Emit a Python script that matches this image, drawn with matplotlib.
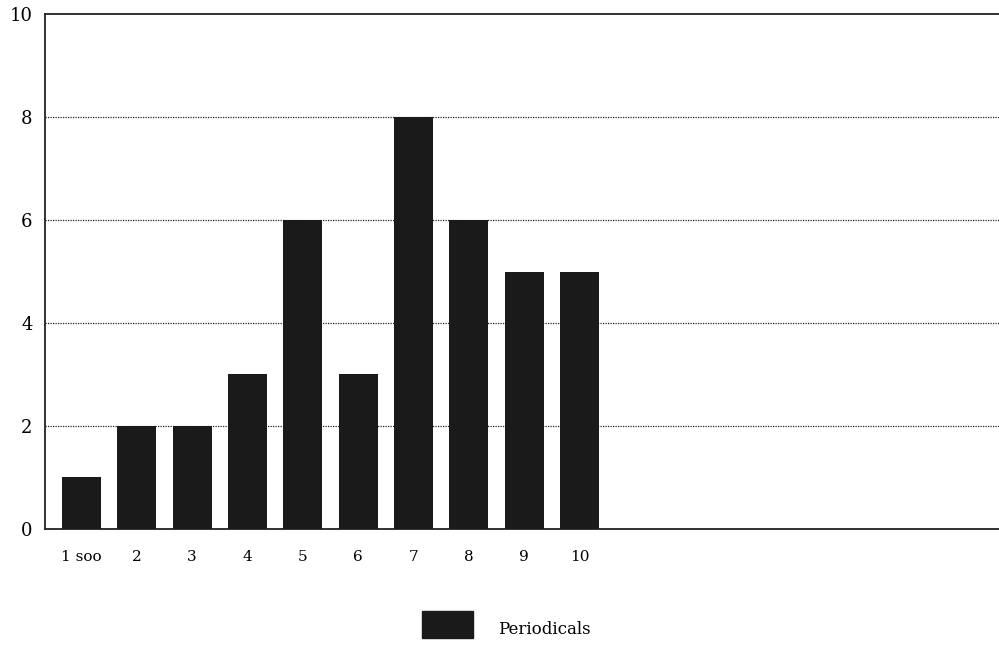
import numpy as np
import matplotlib.pyplot as plt
from matplotlib.patches import Rectangle

categories = ['1 soo', '2', '3', '4', '5', '6', '7', '8', '9', '10']
values = [1, 2, 2, 3, 6, 3, 8, 6, 5, 5]
yticks = [0, 2, 4, 6, 8, 10]
series_name = 'Periodicals'

plt.rcParams['font.family'] = ['DejaVu Serif']

fig = plt.figure(figsize=(9.99, 6.45), dpi=100)
ax = fig.add_axes([0.045, 0.18, 0.955, 0.798])

x = np.arange(1, len(values) + 1)
ax.bar(x, values, width=0.7, color='#1a1a1a', zorder=3)

ax.set_xlim(0.34, 17.58)
ax.set_ylim(0, 10)
ax.set_xticks(x)
ax.set_xticklabels(categories, fontsize=11)
ax.set_yticks(yticks)
ax.set_yticklabels([str(v) for v in yticks], fontsize=13)
ax.tick_params(axis='x', length=0, pad=15)
ax.tick_params(axis='y', length=0, pad=9)

for v in yticks[1:-1]:
    ax.axhline(v, color='#222222', linestyle=(0, (1, 1)), linewidth=0.9, zorder=1)

ax.spines['right'].set_visible(False)
for s in ['left', 'bottom', 'top']:
    ax.spines[s].set_linewidth(1.3)
    ax.spines[s].set_color('#222222')

# legend
fig.patches.append(Rectangle((422 / 999, 1 - 638 / 645), 51 / 999, 27 / 645,
                             transform=fig.transFigure, color='#1a1a1a'))
fig.text(498 / 999, 1 - 630 / 645, series_name, fontsize=12, va='center', ha='left')

fig.savefig('out.png', dpi=100)
